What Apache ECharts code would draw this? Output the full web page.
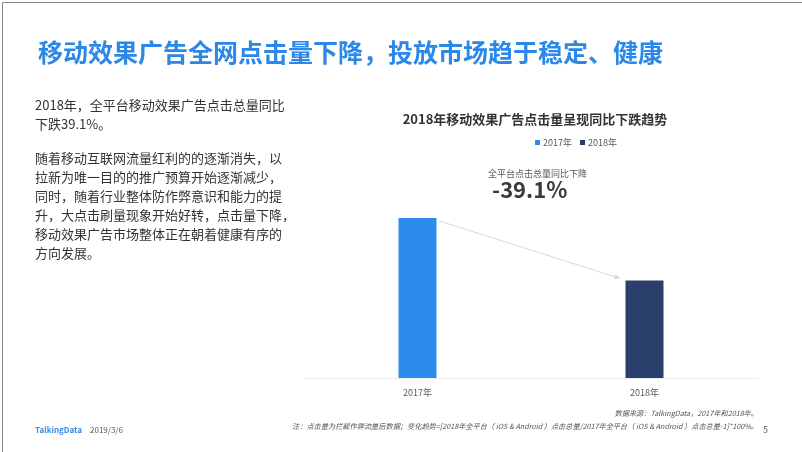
<!DOCTYPE html>
<html>
<head>
<meta charset="utf-8">
<script src="https://cdn.jsdelivr.net/npm/echarts@6/dist/echarts.min.js"></script>
<style>
html,body{margin:0;padding:0;background:#fff;}
#c{width:802px;height:452px;}
</style>
</head>
<body>
<div id="c"></div>
<script>
const categories = ['2017年', '2018年'];
const seriesNames = ['2017年', '2018年'];
const clickIndex = [100, 60.9];
const changeLabel = '-39.1%';
const changeCaption = '全平台点击总量同比下降';
const pageTitle = '移动效果广告全网点击量下降，投放市场趋于稳定、健康';
const chartTitle = '2018年移动效果广告点击量呈现同比下跌趋势';
const bodyLines = [
  '2018年，全平台移动效果广告点击总量同比',
  '下跌39.1%。',
  '',
  '随着移动互联网流量红利的的逐渐消失，以',
  '拉新为唯一目的的推广预算开始逐渐减少，',
  '同时，随着行业整体防作弊意识和能力的提',
  '升，大点击刷量现象开始好转，点击量下降，',
  '移动效果广告市场整体正在朝着健康有序的',
  '方向发展。'
];
const sourceNote = '数据来源：TalkingData，2017年和2018年。';
const formulaNote = '注：点击量为拦截作弊流量后数据；变化趋势=[2018年全平台（ iOS & Android ）点击总量/2017年全平台（ iOS & Android ）点击总量-1]*100%。';
const footerBrand = 'TalkingData';
const footerDate = '2019/3/6';
const pageNo = '5';

const colors = ['#2E8AEC', '#2B3F6C'];
const FONT = '"Noto Sans CJK SC", "Noto Sans", sans-serif';

const chart = echarts.init(document.getElementById('c'));

const bodyGraphics = [];
let yy = 108;
bodyLines.forEach(function (t) {
  if (t) {
    bodyGraphics.push({
      type: 'text', left: 35, top: yy - 9,
      style: { text: t, font: '13px ' + FONT, fill: '#333' }
    });
  }
  yy += t ? 19 : 15;
});

const BAR_W = 38;

const barSeries = seriesNames.map(function (name, i) {
  const d = categories.map(function (c, j) { return j === i ? clickIndex[j] : '-'; });
  return {
    name: name, type: 'bar', data: d, barWidth: BAR_W, barGap: '-100%',
    itemStyle: { color: colors[i] }, silent: true
  };
});

const arrowSeries = {
  type: 'custom', silent: true, z: 5,
  data: [[0, clickIndex[0], 1, clickIndex[1]]],
  renderItem: function (params, api) {
    const p1 = api.coord([api.value(0), api.value(1)]);
    const p2 = api.coord([api.value(2), api.value(3)]);
    const x1 = p1[0] + BAR_W / 2 + 3, y1 = p1[1] + 3;
    const x2 = p2[0] - BAR_W / 2 - 5, y2 = p2[1] - 2;
    const ang = Math.atan2(y2 - y1, x2 - x1);
    const L = 6, w = 2.5;
    const bx = x2 - L * Math.cos(ang), by = y2 - L * Math.sin(ang);
    const nx = -Math.sin(ang) * w, ny = Math.cos(ang) * w;
    return {
      type: 'group',
      children: [
        { type: 'line', shape: { x1: x1, y1: y1, x2: bx, y2: by },
          style: { stroke: '#d9d9d9', lineWidth: 1 } },
        { type: 'polygon', shape: { points: [[x2, y2], [bx + nx, by + ny], [bx - nx, by - ny]] },
          style: { fill: '#d9d9d9' } }
      ]
    };
  }
};

chart.setOption({
  animation: false,
  backgroundColor: '#fff',
  title: [
    { text: pageTitle, left: 33, top: 35,
      textStyle: { fontFamily: FONT, fontSize: 25, fontWeight: 'bold', color: '#2B88E8' } },
    { text: chartTitle, left: 530, top: 108, textAlign: 'center',
      textStyle: { fontFamily: FONT, fontSize: 13, fontWeight: 'bold', color: '#333' } }
  ],
  legend: {
    data: seriesNames, top: 133, left: 530, itemWidth: 5, itemHeight: 5, itemGap: 8,
    icon: 'rect', textAlign: 'left',
    textStyle: { fontFamily: FONT, fontSize: 9, color: '#595959', padding: [0, 0, 0, -2] }
  },
  grid: { left: 304, right: 44, top: 218, bottom: 74 },
  xAxis: {
    type: 'category', data: categories,
    axisLine: { lineStyle: { color: '#ececec' } },
    axisTick: { show: false },
    axisLabel: { fontFamily: FONT, fontSize: 9, color: '#595959', margin: 10 }
  },
  yAxis: { type: 'value', min: 0, max: 100, show: false, splitLine: { show: false } },
  series: barSeries.concat([arrowSeries]),
  graphic: bodyGraphics.concat([
    { type: 'rect', left: 0, top: 0, shape: { x: 0.5, y: 0.5, width: 801, height: 451 },
      style: { fill: 'none', stroke: '#888', lineWidth: 1 }, silent: true },
    { type: 'text', left: 488, top: 169,
      style: { text: changeCaption, font: '9px ' + FONT, fill: '#595959' } },
    { type: 'text', left: 492, top: 179,
      style: { text: changeLabel, font: 'bold 22px ' + FONT, fill: '#3a3a3a' } },
    { type: 'text', right: 44, top: 410,
      style: { text: sourceNote, font: 'italic 7.2px ' + FONT, fill: '#555' } },
    { type: 'text', right: 44, top: 423,
      style: { text: formulaNote, font: 'italic 7.2px ' + FONT, fill: '#555' } },
    { type: 'text', left: 35, top: 426,
      style: { text: footerBrand, font: 'bold 8px ' + FONT, fill: '#3a8de8' } },
    { type: 'text', left: 90, top: 426,
      style: { text: footerDate, font: '8px ' + FONT, fill: '#555' } },
    { type: 'text', left: 763, top: 425,
      style: { text: pageNo, font: '9px ' + FONT, fill: '#555' } }
  ])
});
</script>
</body>
</html>
